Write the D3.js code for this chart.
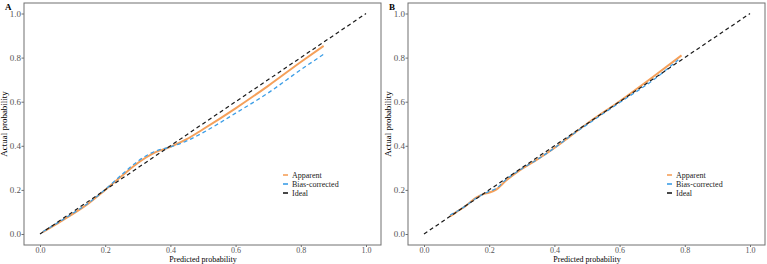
<!DOCTYPE html>
<html>
<head>
<meta charset="utf-8">
<script src="https://cdn.jsdelivr.net/npm/d3@7"></script>
<style>
  body { margin: 0; background: #fff; }
  svg { display: block; font-family: "Liberation Serif", "DejaVu Serif", serif; }
</style>
</head>
<body>
<div id="chart"></div>
<script>
// calibration curves
const tickVals = [0, 0.2, 0.4, 0.6, 0.8, 1.0];
const idealLine = [[0, 0], [1, 1]];

const apparentA = [[0.01,0.01],[0.05,0.045],[0.1,0.09],[0.15,0.14],[0.2,0.2],[0.25,0.262],[0.3,0.322],[0.35,0.368],[0.4,0.395],[0.45,0.43],[0.5,0.475],[0.6,0.57],[0.7,0.672],[0.8,0.78],[0.87,0.853]];
const biasA = [[0.01,0.012],[0.05,0.047],[0.1,0.093],[0.15,0.142],[0.2,0.202],[0.25,0.268],[0.3,0.33],[0.35,0.373],[0.4,0.395],[0.45,0.422],[0.5,0.46],[0.6,0.548],[0.7,0.64],[0.8,0.745],[0.87,0.815]];

const apparentB = [[0.08,0.08],[0.1,0.1],[0.13,0.13],[0.16,0.165],[0.18,0.18],[0.2,0.188],[0.22,0.2],[0.25,0.24],[0.3,0.295],[0.35,0.34],[0.4,0.39],[0.45,0.445],[0.5,0.5],[0.6,0.602],[0.7,0.71],[0.79,0.81]];
const biasB = [[0.08,0.086],[0.1,0.102],[0.13,0.13],[0.16,0.162],[0.18,0.18],[0.2,0.193],[0.22,0.205],[0.25,0.245],[0.3,0.296],[0.35,0.34],[0.4,0.39],[0.45,0.445],[0.5,0.496],[0.6,0.596],[0.7,0.695],[0.78,0.79]];

const legendNames = ['Apparent', 'Bias-corrected', 'Ideal'];
const legendColors = ['#f5a05a', '#3d9ee6', '#1a1a1a'];

const svg = d3.select('#chart').append('svg').attr('width', 767).attr('height', 264);

function drawPanel(offX, label, apparent, bias){
	const x = d3.scaleLinear().domain([0, 1]).range([offX + 40, offX + 366]);
	const y = d3.scaleLinear().domain([0, 1]).range([234, 13.5]);
	const g = svg.append('g');

	// panel box
	g.append('rect')
		.attr('x', offX + 24).attr('y', 3)
		.attr('width', 357).attr('height', 242)
		.attr('fill', 'none').attr('stroke', '#707070').attr('stroke-width', 1);

	const xAxis = g.append('g').attr('transform', 'translate(0,245)')
		.call(d3.axisBottom(x).tickValues(tickVals).tickFormat(d3.format('.1f')).tickSize(2));
	const yAxis = g.append('g').attr('transform', `translate(${offX + 24},0)`)
		.call(d3.axisLeft(y).tickValues(tickVals).tickFormat(d3.format('.1f')).tickSize(2.5));
	[xAxis, yAxis].forEach(a => {
		a.select('.domain').remove();
		a.selectAll('.tick line').attr('stroke', '#707070');
		a.selectAll('.tick text').attr('fill', '#555').style('font-size', '9px')
			.style('font-family', '"Liberation Serif", serif');
	});
	xAxis.selectAll('.tick text').attr('y', 2.5).attr('dy', '0.71em').style('font-size', '8px');
	yAxis.selectAll('.tick text').attr('x', -3);

	const line = d3.line().x(d => x(d[0])).y(d => y(d[1])).curve(d3.curveMonotoneX);

	g.append('path').datum(apparent).attr('d', line)
		.attr('fill', 'none').attr('stroke', legendColors[0]).attr('stroke-width', 2);
	g.append('path').datum(bias).attr('d', line)
		.attr('fill', 'none').attr('stroke', legendColors[1]).attr('stroke-width', 1.3)
		.attr('stroke-dasharray', '4,3');
	g.append('path').datum(idealLine).attr('d', line)
		.attr('fill', 'none').attr('stroke', legendColors[2]).attr('stroke-width', 1.2)
		.attr('stroke-dasharray', '4,3');

	// titles
	g.append('text').attr('x', offX + 5).attr('y', 10)
		.style('font-size', '9px').style('font-weight', 'bold').text(label);
	g.append('text')
		.attr('transform', `translate(${offX + 7},124) rotate(-90)`)
		.attr('text-anchor', 'middle').style('font-size', '9px').text('Actual probability');
	g.append('text').attr('x', (x(0) + x(1)) / 2).attr('y', 261.6)
		.attr('text-anchor', 'middle').style('font-size', '8px').text('Predicted probability');

	// legend
	const lg = g.append('g').attr('transform', `translate(${offX + 283},175)`);
	legendNames.forEach((n, i) => {
		lg.append('line').attr('x1', 0).attr('x2', 5).attr('y1', i * 9).attr('y2', i * 9)
			.attr('stroke', legendColors[i]).attr('stroke-width', 1.6);
		lg.append('text').attr('x', 9).attr('y', i * 9).attr('dy', '0.33em')
			.style('font-size', '8px').attr('fill', '#222').text(n);
	});
}

drawPanel(0, 'A', apparentA, biasA);
drawPanel(384, 'B', apparentB, biasB);
</script>
</body>
</html>
